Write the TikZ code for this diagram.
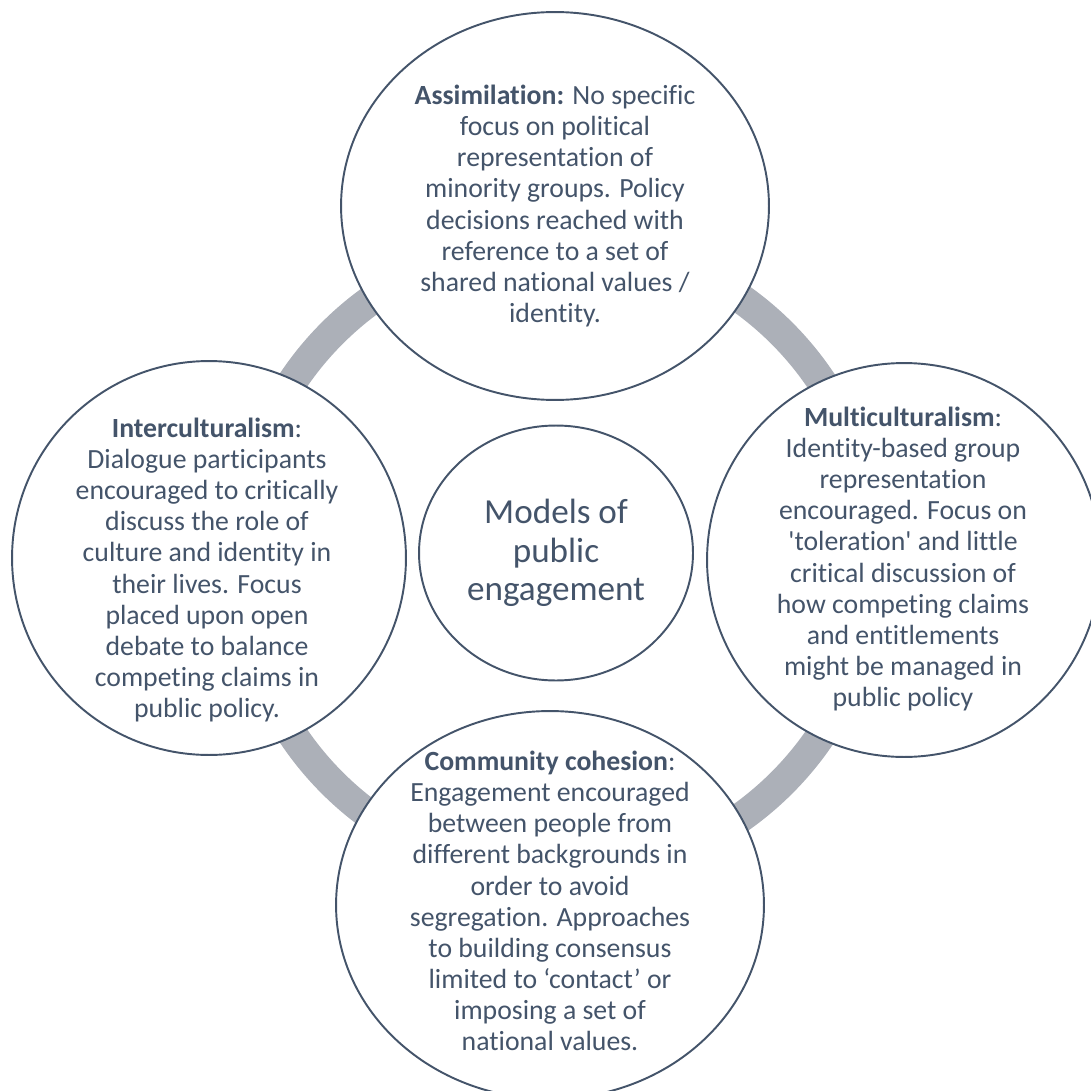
\documentclass[tikz,border=0pt]{standalone}
\usepackage{fontspec}
\newfontfamily\bodyfont{Carlito}[Ligatures=NoCommon]
\usetikzlibrary{shapes.geometric}
\definecolor{slate}{HTML}{44546A}
\definecolor{ringgrey}{RGB}{172,176,184}

\begin{document}
\begin{tikzpicture}[x=0.02cm, y=-0.02cm,
		bubble/.style={ellipse, draw=slate, line width=1.1pt, fill=white, minimum width=7.88cm, minimum height=7.88cm, inner sep=0pt},
		wide/.style={bubble, minimum width=8.56cm, minimum height=7.76cm},
		hubnode/.style={ellipse, draw=slate, line width=1.1pt, fill=white, minimum width=5.48cm, minimum height=5.1cm, inner sep=0pt, align=center, text=slate, font=\bodyfont\fontsize{20}{22}\selectfont},
		txt/.style={align=center, text=slate, inner sep=0pt, font=\bodyfont\fontsize{15.8}{17.7}\selectfont},
		ring/.style={draw=ringgrey, line width=0.6cm}]
			\useasboundingbox (0,0) rectangle (1090,1091);
			\coordinate (mid) at (557,558);
			\draw[ring] (mid) circle[radius=6.36cm];
			\node[wide] (assim) at (555,206) {};
			\node[bubble] (inter) at (209,558) {};
			\node[bubble] (multi) at (904,560) {};
			\node[wide] (cohes) at (550,905) {};
			\node[hubnode] (models) at (556,553) {Models of\\public\\engagement};
			\node[txt] (assimtext) at (555,206) {\textbf{Assimilation:} No specific\\focus on political\\representation of\\minority groups. Policy\\decisions reached with\\reference to a set of\\shared national values /\\identity.};
			\node[txt] (intertext) at (207,570) {\textbf{Interculturalism}:\\Dialogue participants\\encouraged to critically\\discuss the role of\\culture and identity in\\their lives. Focus\\placed upon open\\debate to balance\\competing claims in\\public policy.};
			\node[txt] (multitext) at (903,559) {\textbf{Multiculturalism}:\\Identity-based group\\representation\\encouraged. Focus on\\'toleration' and little\\critical discussion of\\how competing claims\\and entitlements\\might be managed in\\public policy};
			\node[txt] (cohestext) at (550,901) {\textbf{Community cohesion}:\\Engagement encouraged\\between people from\\different backgrounds in\\order to avoid\\segregation. Approaches\\to building consensus\\limited to ‘contact’ or\\imposing a set of\\national values.};
		\end{tikzpicture}
\end{document}
